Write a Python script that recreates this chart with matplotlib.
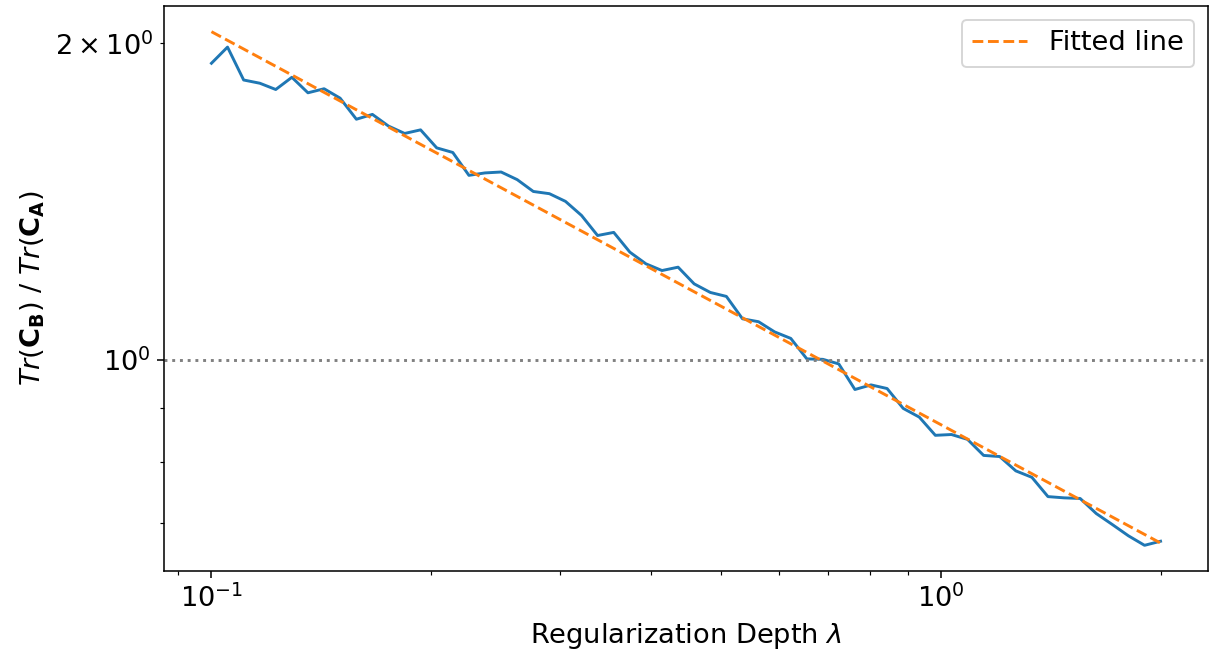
import numpy as np
import matplotlib
matplotlib.use('Agg')
import matplotlib.pyplot as plt

# regularization depth (log grid, 0.1 .. 2)
lam = [0.1, 0.1052, 0.1107, 0.1165, 0.1225, 0.1289, 0.1356, 0.1427, 0.1501, 0.1580,
       0.1662, 0.1748, 0.1840, 0.1935, 0.2036, 0.2142, 0.2254, 0.2371, 0.2495, 0.2625,
       0.2762, 0.2906, 0.3057, 0.3216, 0.3383, 0.3560, 0.3746, 0.3941, 0.4146, 0.4362,
       0.4589, 0.4829, 0.5080, 0.5345, 0.5623, 0.5916, 0.6225, 0.6549, 0.6890, 0.7244,
       0.7622, 0.8019, 0.8437, 0.8877, 0.9339, 0.9825, 1.0336, 1.0875, 1.1442, 1.2038,
       1.2665, 1.3325, 1.4019, 1.4750, 1.5518, 1.6327, 1.7178, 1.8073, 1.9015, 2.0]

# Tr(C_B) / Tr(C_A)
ratio = [1.915, 1.984, 1.846, 1.833, 1.808, 1.857, 1.795, 1.811, 1.774, 1.694,
         1.712, 1.669, 1.642, 1.655, 1.591, 1.575, 1.498, 1.506, 1.509, 1.484,
         1.446, 1.439, 1.415, 1.372, 1.313, 1.322, 1.266, 1.234, 1.216, 1.225,
         1.181, 1.159, 1.149, 1.094, 1.087, 1.063, 1.048, 1.002, 1.001, 0.991,
         0.937, 0.9465, 0.939, 0.899, 0.882, 0.8475, 0.849, 0.840, 0.811, 0.809,
         0.784, 0.773, 0.741, 0.739, 0.738, 0.714, 0.697, 0.680, 0.666, 0.672]

lam = np.array(lam)
ratio = np.array(ratio)

# power-law fit in log-log space
slope, intercept = np.polyfit(np.log10(lam), np.log10(ratio), 1)
fit = 10 ** (intercept + slope * np.log10(lam))

plt.rcParams['font.size'] = 14

fig = plt.figure(figsize=(1209 / 140, 654 / 140), dpi=140)
ax = fig.add_subplot(111)
fig.subplots_adjust(left=164 / 1209, right=1208 / 1209, top=1 - 6 / 654, bottom=1 - 571 / 654)

ax.plot(lam, ratio, color='tab:blue')
ax.plot(lam, fit, '--', color='tab:orange', label='Fitted line')
ax.axhline(1.0, color='gray', linestyle=':')
ax.set_xscale('log')
ax.set_yscale('log')
ax.set_xlabel(r'Regularization Depth $\lambda$')
ax.set_ylabel(r'$Tr(\mathbf{C_B})$ / $Tr(\mathbf{C_A})$')
ax.legend()

fig.savefig('out.png', dpi=140)
